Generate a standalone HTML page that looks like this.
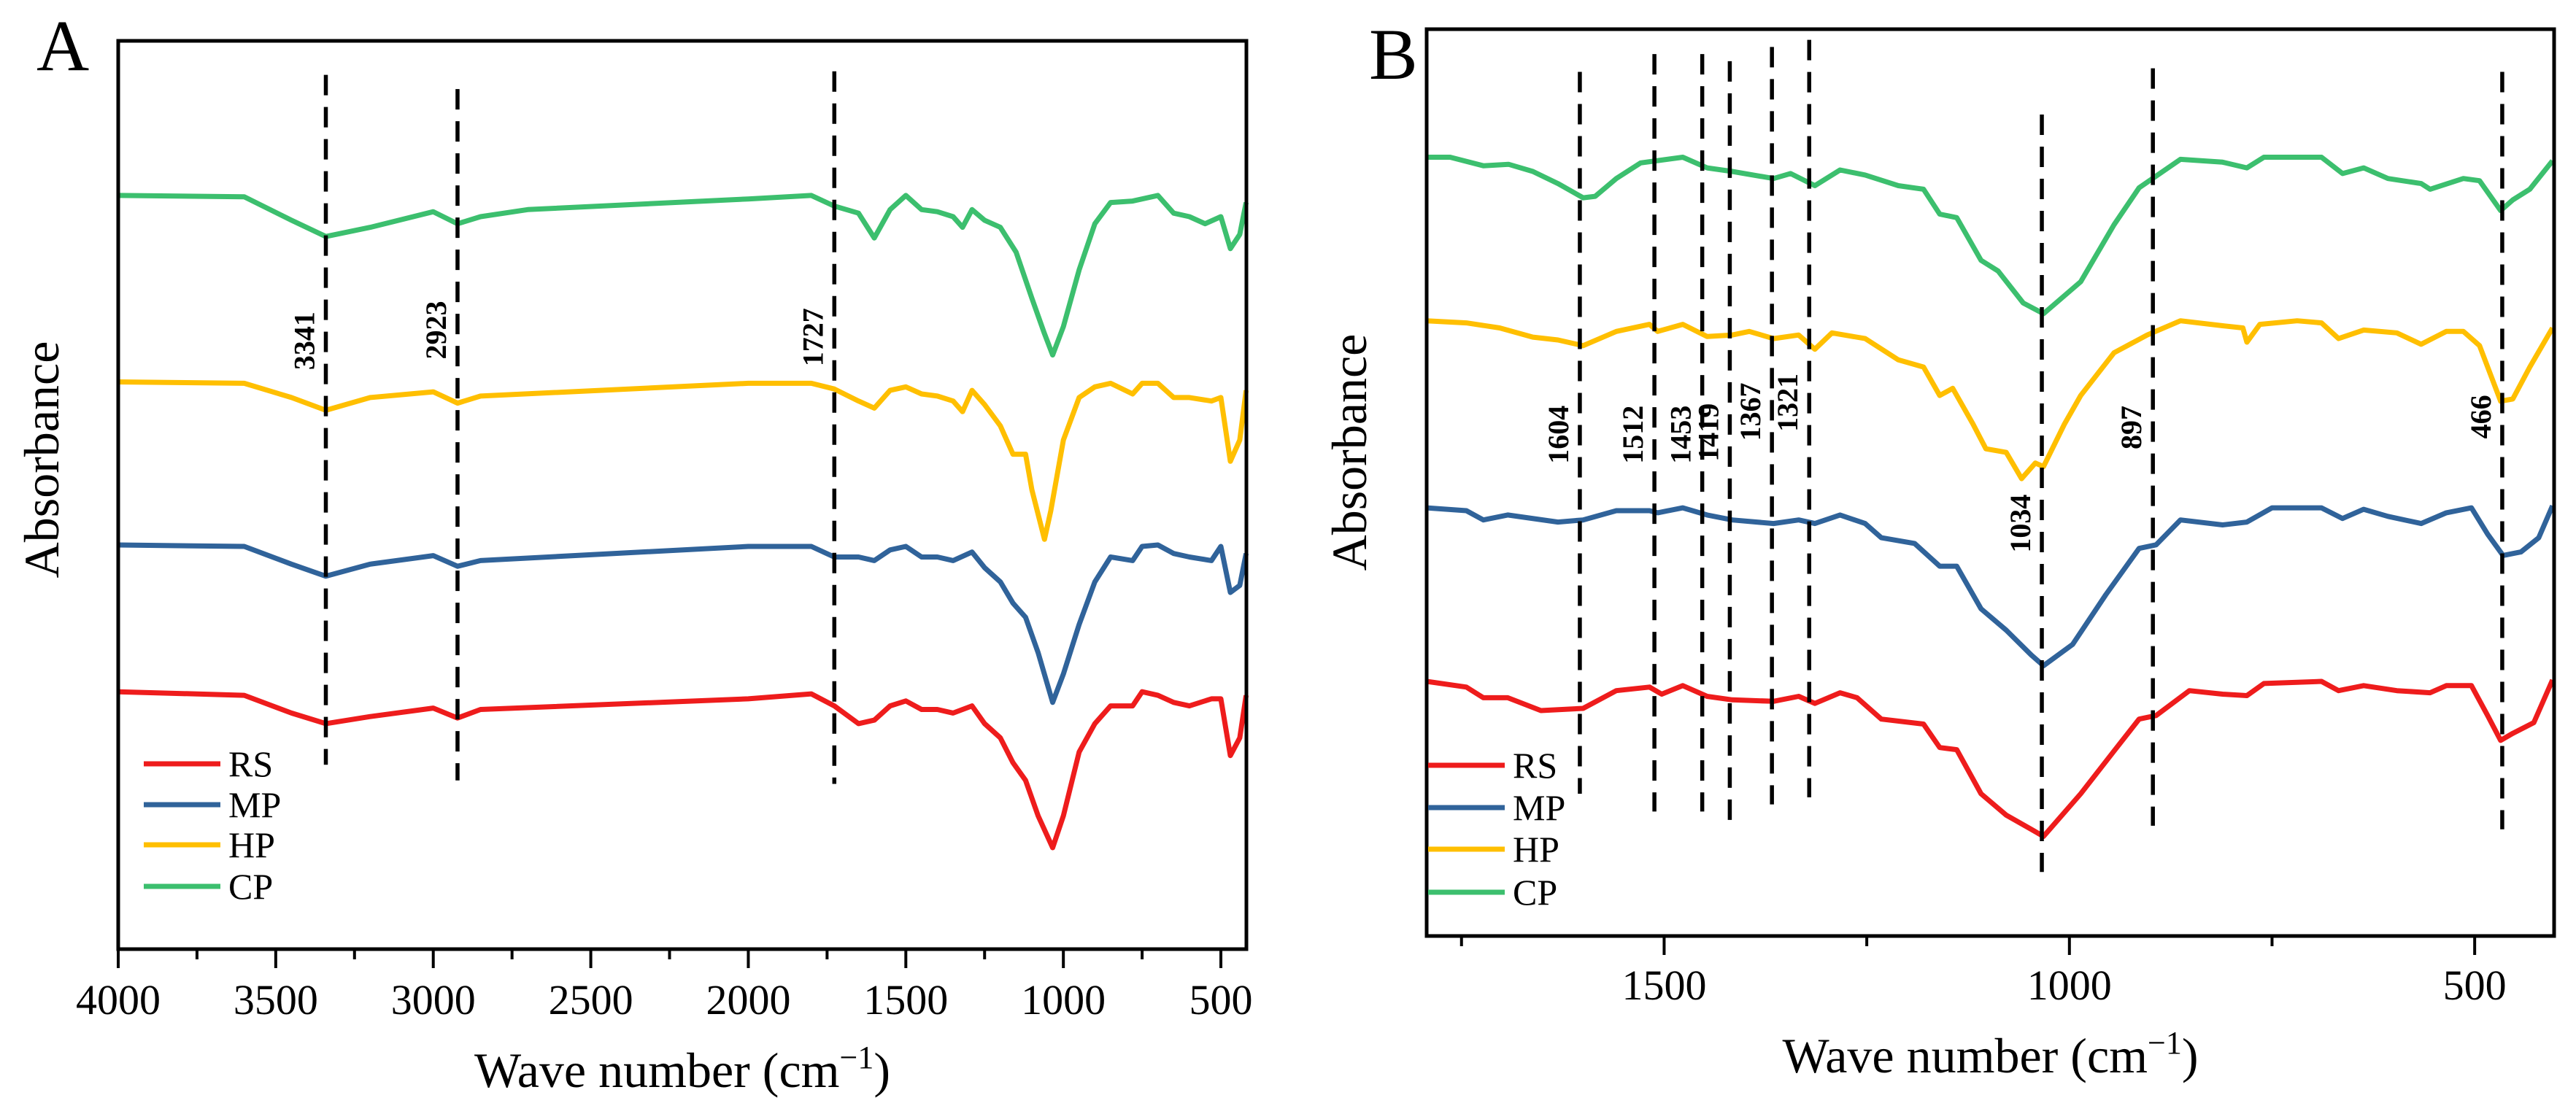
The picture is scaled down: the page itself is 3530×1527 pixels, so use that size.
<!DOCTYPE html>
<html><head><meta charset="utf-8"><style>
html,body{margin:0;padding:0;background:#fff;}
svg{display:block;font-family:"Liberation Serif",serif;}
text{font-family:"Liberation Serif",serif;}
</style></head><body>
<svg id="chart" width="3530" height="1527" viewBox="0 0 3530 1527" xmlns="http://www.w3.org/2000/svg" font-family="Liberation Serif, serif"></svg>
<script>
// ---------- Panel A data (wavenumber, absorbance a.u.) ----------
const aRSw=[4000,3600,3450,3341,3200,3000,2923,2850,2000,1800,1727,1650,1600,1550,1500,1450,1400,1350,1290,1250,1200,1160,1120,1080,1034,1000,950,900,850,780,750,700,650,600,530,500,470,440,420];
const aRSv=[363,358,333,318,328,340,326,338,353,360,343,318,323,343,350,338,338,333,343,318,298,263,238,188,143,188,278,318,343,343,363,358,348,343,353,353,273,298,358];
const aMPw=[4000,3600,3450,3341,3200,3000,2923,2850,2000,1800,1727,1650,1600,1550,1500,1450,1400,1350,1290,1250,1200,1160,1120,1080,1034,1000,950,900,850,780,750,700,650,600,530,500,470,440,420];
const aMPv=[570,568,543,526,543,555,540,548,568,568,553,553,548,563,568,553,553,548,560,538,518,488,468,418,348,388,458,518,553,548,568,570,558,553,548,568,503,513,558];
const aHPw=[4000,3600,3450,3341,3200,3000,2923,2850,2000,1800,1727,1650,1600,1550,1500,1450,1400,1350,1320,1290,1250,1200,1160,1120,1100,1060,1040,1000,950,900,850,780,750,700,650,600,530,500,470,440,420];
const aHPv=[800,798,778,760,778,786,770,780,798,798,790,773,763,788,793,783,780,773,758,788,768,738,698,698,648,578,618,718,778,793,798,783,798,798,778,778,773,778,688,718,788];
const aCPw=[4000,3600,3450,3341,3200,3000,2923,2850,2700,2000,1800,1727,1650,1600,1550,1500,1450,1400,1350,1320,1290,1250,1200,1150,1100,1060,1034,1000,950,900,850,780,700,650,600,550,500,470,440,420];
const aCPv=[1063,1061,1028,1005,1018,1040,1023,1033,1043,1058,1063,1048,1038,1003,1043,1063,1043,1040,1033,1018,1043,1028,1018,983,918,868,838,878,958,1023,1053,1055,1063,1038,1033,1023,1033,988,1008,1053];
const aPeaks=[3341,2923,1727];
const aPeakTop=[1233,1213,1238];
const aPeakBot=[260,238,233];
const aPeakLabelV=[858,873,863];
const aTicks=[4000,3500,3000,2500,2000,1500,1000,500];

// ---------- Panel B data ----------
const bRSw=[1793,1744,1723,1693,1652,1600,1559,1518,1503,1477,1447,1416,1365,1334,1314,1283,1262,1232,1180,1160,1139,1109,1078,1047,1032,986,945,914,893,852,811,781,760,689,668,637,596,555,535,504,484,468,453,427,404];
const bRSv=[358,350,335,335,317,320,345,350,340,352,337,332,330,337,327,342,335,305,298,265,262,200,170,150,140,200,260,305,310,345,340,338,355,358,345,352,345,342,352,352,310,275,285,300,360];
const bMPw=[1793,1744,1723,1693,1631,1600,1559,1518,1508,1477,1447,1416,1365,1334,1314,1283,1252,1232,1191,1160,1139,1109,1078,1047,1032,996,955,914,893,863,811,781,750,689,663,637,607,566,535,504,484,465,443,421,404];
const bMPv=[602,598,585,592,582,585,598,598,595,602,592,585,580,585,580,592,580,560,552,520,520,460,430,395,380,410,480,545,550,585,578,582,602,602,587,600,590,580,595,602,565,535,540,560,605];
const bHPw=[1793,1744,1703,1662,1631,1600,1559,1518,1508,1477,1447,1416,1395,1365,1334,1314,1293,1252,1211,1180,1160,1144,1119,1103,1078,1059,1042,1032,1006,986,945,904,863,811,786,781,765,719,689,668,637,596,566,535,514,494,468,453,432,404];
const bHPv=[865,862,855,842,838,830,850,860,850,860,843,845,850,840,845,825,848,840,810,800,760,770,720,685,680,643,665,660,720,760,820,845,865,858,855,835,860,865,862,840,852,848,832,850,850,830,752,755,800,855];
const bCPw=[1793,1764,1723,1692,1662,1631,1600,1585,1559,1529,1477,1447,1416,1365,1344,1314,1283,1252,1211,1180,1160,1139,1109,1088,1057,1032,986,945,914,863,811,781,760,689,663,637,607,566,555,514,494,468,453,432,404];
const bCPv=[1095,1095,1083,1085,1075,1058,1038,1040,1065,1087,1095,1080,1075,1065,1072,1055,1077,1070,1055,1050,1015,1010,950,935,890,875,920,1000,1052,1092,1088,1080,1095,1095,1072,1080,1065,1058,1050,1065,1062,1020,1035,1050,1090];
const bPeaks=[1604,1512,1453,1419,1367,1321,1034,897,466];
const bPeakTop=[1215,1240,1240,1230,1250,1260,1155,1220,1215];
const bPeakBot=[200,175,175,160,185,195,90,155,150];
const bPeakLabelV=[705,705,705,708,737,750,580,715,730];
const bTicks=[1500,1000,500];
const bMinor=[1750,1250,750];

const seriesNames=["RS","MP","HP","CP"];
const colors={RS:"#ee1c1c",MP:"#30639a",HP:"#ffbf00",CP:"#3cbf6e"};
const FF="Liberation Serif, serif";

const NS="http://www.w3.org/2000/svg";
const svg=document.getElementById('chart');
function mk(tag,attrs,parent){const e=document.createElementNS(NS,tag);for(const k in attrs)e.setAttribute(k,attrs[k]);if(tag==='text')e.setAttribute('font-family',FF);(parent||svg).appendChild(e);return e;}

function panel(cfg){
  const g=mk('g',{});
  
  
  const xs=w=>cfg.L+(cfg.x0-w)/(cfg.x0-cfg.x1)*(cfg.R-cfg.L);
  const ys=v=>cfg.B-v/cfg.ymax*(cfg.B-cfg.T);
  const order=[["RS",cfg.rs],["MP",cfg.mp],["HP",cfg.hp],["CP",cfg.cp]];
  order.forEach(([n,d])=>{
    let p='';d[0].forEach((w,i)=>{p+=(i?'L':'M')+xs(w).toFixed(1)+' '+ys(d[1][i]).toFixed(1);});
    const path=mk('path',{d:p,fill:'none',stroke:colors[n],'stroke-width':7,'stroke-linejoin':'round'},g);
    
    
  });
  cfg.peaks.forEach((pk,i)=>{
    const x=xs(pk);
    const l=mk('line',{x1:x,x2:x,y1:ys(cfg.top[i]),y2:ys(cfg.bot[i]),stroke:'#000','stroke-width':5.5,'stroke-dasharray':'28 16'},g);
    
    
    const tx=x-16, ty=ys(cfg.lab[i]);
    const t=mk('text',{x:tx,y:ty,'font-size':40,'font-weight':'bold','text-anchor':'middle',transform:`rotate(-90 ${tx} ${ty})`},g);
    t.textContent=pk;
    
    
  });
  const f=mk('rect',{x:cfg.L,y:cfg.T,width:cfg.R-cfg.L,height:cfg.B-cfg.T,fill:'none',stroke:'#000','stroke-width':5},g);
  
  
  cfg.ticks.forEach(tk=>{
    const x=xs(tk);
    const l=mk('line',{x1:x,x2:x,y1:cfg.B,y2:cfg.B+26,stroke:'#000','stroke-width':4},g);
    
    
    const t=mk('text',{x:x,y:cfg.tickY,'font-size':58,'text-anchor':'middle'},g);
    t.textContent=tk;
    
    
  });
  cfg.minor.forEach(tk=>{
    const x=xs(tk);
    const l=mk('line',{x1:x,x2:x,y1:cfg.B,y2:cfg.B+14,stroke:'#000','stroke-width':4},g);
    
    
  });
  const xt=mk('text',{x:(cfg.L+cfg.R)/2,y:cfg.titleY,'font-size':68,'text-anchor':'middle'},g);
  xt.innerHTML='Wave number (cm<tspan dy="-26" font-size="44">−1</tspan><tspan dy="26">)</tspan>';
  
  
  const yt=mk('text',{x:cfg.yTitleX,y:cfg.yTitleY,'font-size':68,'text-anchor':'middle',transform:`rotate(-90 ${cfg.yTitleX} ${cfg.yTitleY})`},g);
  yt.textContent='Absorbance';
  
  
  const pl=mk('text',{x:cfg.letterX,y:cfg.letterY,'font-size':100},g);
  pl.textContent=cfg.letter;
  
  
  seriesNames.forEach((n,i)=>{
    const y=cfg.legY[i];
    const l=mk('line',{x1:cfg.legX,x2:cfg.legX+105,y1:y,y2:y,stroke:colors[n],'stroke-width':7},g);
    
    
    const t=mk('text',{x:cfg.legX+116,y:y+17,'font-size':50},g);
    t.textContent=n;
    
    
  });
}

panel({key:'panel-a',letter:'A',L:162,R:1708,T:56,B:1301,x0:4000,x1:419,ymax:1281,
  rs:[aRSw,aRSv],mp:[aMPw,aMPv],hp:[aHPw,aHPv],cp:[aCPw,aCPv],
  peaks:aPeaks,top:aPeakTop,bot:aPeakBot,lab:aPeakLabelV,
  ticks:aTicks,minor:[3750,3250,2750,2250,1750,1250,750],tickY:1390,titleY:1490,
  yTitleX:80,yTitleY:630,letterX:50,letterY:96,legX:197,legY:[1047,1103,1158,1215]});

panel({key:'panel-b',letter:'B',L:1955,R:3500,T:40,B:1283,x0:1793,x1:402,ymax:1275,
  rs:[bRSw,bRSv],mp:[bMPw,bMPv],hp:[bHPw,bHPv],cp:[bCPw,bCPv],
  peaks:bPeaks,top:bPeakTop,bot:bPeakBot,lab:bPeakLabelV,
  ticks:bTicks,minor:bMinor,tickY:1370,titleY:1470,
  yTitleX:1872,yTitleY:620,letterX:1876,letterY:108,legX:1957,legY:[1049,1107,1164,1223]});
</script>
</body></html>
